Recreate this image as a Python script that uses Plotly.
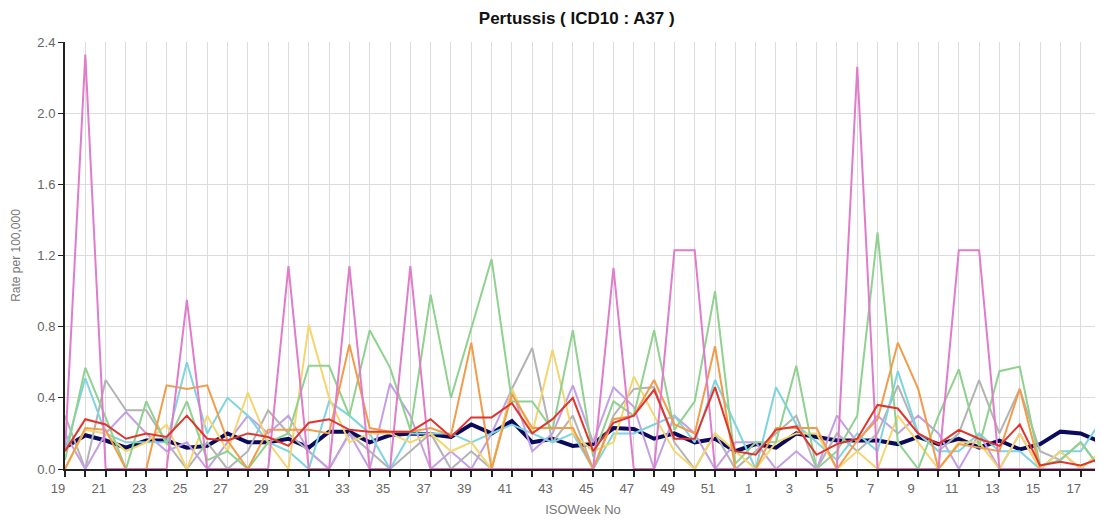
import plotly.graph_objects as go

weeks = list(range(19, 53)) + list(range(1, 19))
week_labels = [str(w) for w in weeks]
tick_labels = [str(w) for w in weeks[::2]]

navy = [0.12,0.19,0.16,0.12,0.16,0.16,0.12,0.13,0.20,0.15,0.15,0.17,0.12,0.21,0.21,0.15,0.19,0.20,0.195,0.18,
        0.25,0.20,0.27,0.15,0.17,0.13,0.14,0.23,0.225,0.17,0.20,0.15,0.17,0.10,0.14,0.12,0.20,0.18,0.16,0.16,
        0.16,0.14,0.18,0.14,0.17,0.12,0.16,0.11,0.14,0.21,0.20,0.15]
red = [0.10,0.28,0.25,0.17,0.20,0.18,0.30,0.17,0.16,0.20,0.18,0.13,0.26,0.28,0.22,0.21,0.21,0.21,0.28,0.18,
       0.29,0.29,0.37,0.20,0.28,0.40,0.10,0.26,0.30,0.445,0.17,0.17,0.46,0.10,0.08,0.22,0.24,0.08,0.14,0.17,
       0.36,0.34,0.20,0.14,0.22,0.17,0.13,0.25,0.02,0.04,0.02,0.06]
pink = [0.10,2.33,0.0,0.0,0.0,0.0,0.95,0.0,0.0,0.0,0.0,1.14,0.0,0.0,1.14,0.0,0.0,1.14,0.0,0.0,
        0.0,0.0,0.0,0.0,0.0,0.0,0.0,1.13,0.0,0.0,1.23,1.23,0.0,0.0,0.0,0.0,0.0,0.0,0.0,2.26,
        0.0,0.0,0.0,0.0,1.23,1.23,0.0,0.0,0.0,0.0,0.0,0.0]
green = [0.05,0.57,0.29,0.0,0.38,0.14,0.38,0.05,0.10,0.0,0.15,0.20,0.58,0.58,0.30,0.78,0.57,0.22,0.98,0.40,
         0.79,1.18,0.38,0.38,0.22,0.78,0.07,0.38,0.30,0.78,0.22,0.38,1.0,0.03,0.15,0.15,0.58,0.0,0.10,0.30,
         1.33,0.15,0.0,0.30,0.56,0.13,0.55,0.575,0.02,0.05,0.15,0.0]
orange = [0.0,0.23,0.22,0.0,0.0,0.47,0.45,0.47,0.16,0.0,0.22,0.22,0.22,0.20,0.70,0.23,0.21,0.21,0.23,0.19,
          0.71,0.0,0.42,0.23,0.23,0.23,0.0,0.28,0.30,0.50,0.25,0.20,0.69,0.0,0.0,0.23,0.23,0.23,0.0,0.16,
          0.28,0.71,0.45,0.0,0.14,0.12,0.10,0.45,0.0,0.0,0.0,0.0]
yellow = [0.0,0.22,0.20,0.10,0.15,0.25,0.0,0.30,0.10,0.43,0.15,0.0,0.81,0.40,0.15,0.20,0.20,0.15,0.20,0.10,
          0.15,0.0,0.45,0.20,0.67,0.20,0.10,0.15,0.52,0.30,0.10,0.0,0.20,0.10,0.0,0.15,0.20,0.20,0.0,0.10,
          0.0,0.30,0.15,0.0,0.15,0.15,0.0,0.20,0.0,0.10,0.0,0.10]
cyan = [0.10,0.51,0.20,0.15,0.15,0.15,0.60,0.20,0.40,0.30,0.15,0.10,0.0,0.38,0.30,0.20,0.0,0.20,0.20,0.20,
        0.15,0.20,0.25,0.20,0.15,0.20,0.0,0.20,0.20,0.25,0.30,0.15,0.50,0.25,0.0,0.46,0.25,0.15,0.05,0.20,
        0.10,0.55,0.20,0.10,0.10,0.20,0.10,0.10,0.0,0.10,0.10,0.27]
purple = [0.20,0.0,0.20,0.32,0.20,0.10,0.15,0.0,0.15,0.30,0.20,0.30,0.10,0.0,0.20,0.0,0.48,0.30,0.0,0.10,
          0.0,0.20,0.45,0.10,0.20,0.47,0.15,0.46,0.35,0.0,0.30,0.20,0.0,0.15,0.15,0.0,0.10,0.0,0.30,0.15,
          0.30,0.20,0.30,0.20,0.0,0.20,0.0,0.20,0.0,0.10,0.0,0.0]
gray = [0.30,0.0,0.50,0.33,0.33,0.15,0.0,0.15,0.0,0.10,0.33,0.20,0.10,0.0,0.20,0.10,0.0,0.10,0.20,0.0,
        0.10,0.0,0.45,0.68,0.15,0.30,0.0,0.30,0.45,0.46,0.15,0.0,0.20,0.0,0.10,0.20,0.30,0.0,0.20,0.10,
        0.20,0.47,0.20,0.10,0.20,0.50,0.20,0.45,0.10,0.05,0.15,0.0]

series = [
    ("Average", navy, "#0b0b5e", 4),
    ("Gray", gray, "#b3b3b3", 2),
    ("Purple", purple, "#c3a0e3", 2),
    ("Cyan", cyan, "#7fd4e0", 2),
    ("Yellow", yellow, "#f5d66e", 2),
    ("Green", green, "#8fd28f", 2),
    ("Orange", orange, "#f29c4a", 2),
    ("Pink", pink, "#e07ccb", 2),
    ("Red", red, "#e0342c", 2),
]

fig = go.Figure()
for name, vals, color, width in series:
    fig.add_trace(go.Scatter(x=week_labels, y=vals, mode="lines", name=name,
                             line=dict(color=color, width=width)))

axis_font = dict(family="Liberation Sans, Arial, sans-serif", size=13, color="#666666")

fig.update_layout(
    width=1095, height=513,
    margin=dict(l=57, r=2, t=34, b=52),
    paper_bgcolor="white", plot_bgcolor="white",
    showlegend=False,
    title=dict(text="<b>Pertussis ( ICD10 : A37 )</b>", x=0.494, xref="paper", y=0.98, yref="container",
               xanchor="center", yanchor="middle",
               font=dict(family="Liberation Sans, Arial, sans-serif", size=17, color="#111111")),
    xaxis=dict(type="category", categoryorder="array", categoryarray=week_labels,
               range=[0, len(week_labels) - 1],
               tickmode="array", tickvals=week_labels[::2], ticktext=tick_labels,
               ticklabelshift=-7, layer="above traces",
               showgrid=True, gridcolor="#dcdcdc", gridwidth=1,
               showline=True, linecolor="#222222", linewidth=2,
               ticks="outside", ticklen=6, tickcolor="#222222", tickwidth=2,
               tickfont=axis_font, zeroline=False,
               title=dict(text="ISOWeek No", font=dict(family="Liberation Sans, Arial, sans-serif", size=13, color="#777777"),
                          standoff=10)),
    yaxis=dict(range=[0, 2.4], dtick=0.4, tickformat=".1f", layer="above traces",
               showgrid=True, gridcolor="#dcdcdc", gridwidth=1,
               showline=True, linecolor="#222222", linewidth=2,
               ticks="outside", ticklen=5, tickcolor="#222222",
               tickfont=axis_font, zeroline=False,
               title=dict(text="Rate per 100,000", font=dict(family="Liberation Sans, Arial, sans-serif", size=12, color="#777777"),
                          standoff=14)),
)

# grid lines and tick marks for the unlabeled weeks too
fig.update_xaxes(minor=dict(tickvals=week_labels[1::2], showgrid=True, gridcolor="#dcdcdc",
                            ticks="outside", ticklen=6, tickcolor="#222222", tickwidth=2))

fig.write_html("out.html")
